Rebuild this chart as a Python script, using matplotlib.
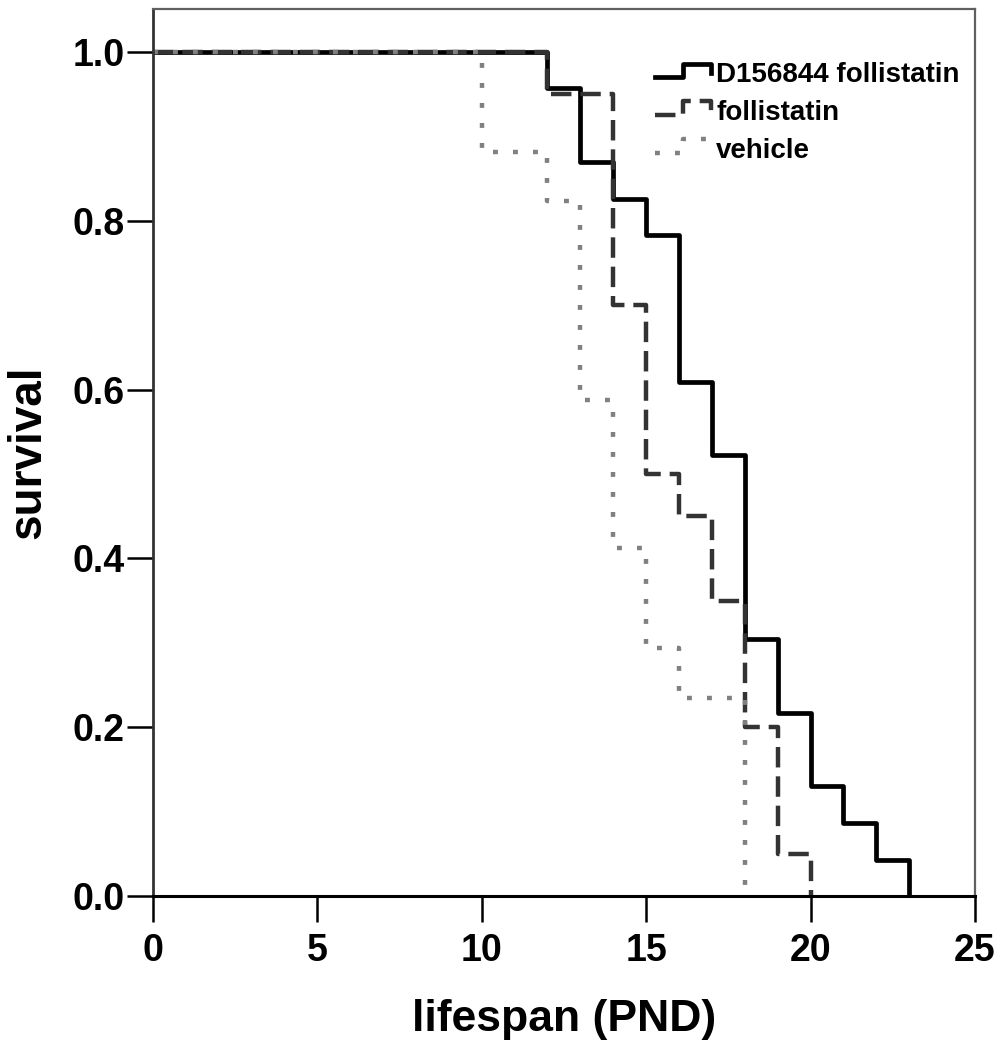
"""
Kaplan-Meier style survival curves (lifespan in postnatal days)
"""

import matplotlib
matplotlib.use("Agg")
import matplotlib.pyplot as plt
from matplotlib.legend_handler import HandlerLine2D
from matplotlib.lines import Line2D

# day of each step and survival fraction after that day
d156844_days = [0, 12, 13, 14, 15, 16, 17, 18, 19, 20, 21, 22, 23]
d156844_surv = [1.0, 0.957, 0.870, 0.826, 0.783, 0.609, 0.522, 0.304, 0.217, 0.130, 0.087, 0.043, 0.0]

follistatin_days = [0, 12, 14, 15, 16, 17, 18, 19, 20]
follistatin_surv = [1.0, 0.95, 0.70, 0.50, 0.45, 0.35, 0.20, 0.05, 0.0]

vehicle_days = [0, 10, 12, 13, 14, 15, 16, 18]
vehicle_surv = [1.0, 0.882, 0.824, 0.588, 0.412, 0.294, 0.235, 0.0]

x_ticks = [0, 5, 10, 15, 20, 25]
y_ticks = [0.0, 0.2, 0.4, 0.6, 0.8, 1.0]


class StepHandler(HandlerLine2D):
    """Legend key drawn as a little step, like SPSS survival plots."""

    def create_artists(self, legend, orig_handle, xdescent, ydescent,
                       width, height, fontsize, trans):
        x0, x1 = -xdescent, -xdescent + width
        xm = x0 + 0.5 * width
        lo = -ydescent + 0.25 * height
        hi = -ydescent + 0.95 * height
        mid = -ydescent + 0.45 * height
        line = Line2D([x0, xm, xm, x1, x1], [lo, lo, hi, hi, mid])
        self.update_prop(line, orig_handle, legend)
        line.set_transform(trans)
        return [line]


plt.rcParams['font.family'] = ['Liberation Sans', 'DejaVu Sans']
plt.rcParams['font.weight'] = 'bold'

fig = plt.figure(figsize=(10.03, 10.5), dpi=100)
ax = fig.add_axes([0.1525, 0.1467, 0.8195, 0.8447])

ax.step(d156844_days, d156844_surv, where='post', color='black', lw=3.4,
        label='D156844 follistatin')
ax.step(follistatin_days, follistatin_surv, where='post', color='#333333', lw=3.2,
        dashes=(4.6, 2.0), label='follistatin')
ax.step(vehicle_days, vehicle_surv, where='post', color='#808080', lw=3.2,
        dashes=(1.1, 3.4), label='vehicle')

ax.set_xlim(0, 25)
ax.set_ylim(0, 1.051)
ax.set_xticks(x_ticks)
ax.set_yticks(y_ticks)
ax.set_yticklabels([f"{v:.1f}" for v in y_ticks])
ax.tick_params(direction='out', length=19, width=1.8, labelsize=27)
ax.tick_params(axis='y', pad=1.5)
ax.tick_params(axis='x', pad=8)

ax.spines['left'].set_linewidth(2.0)
ax.spines['left'].set_color('#333333')
ax.spines['bottom'].set_linewidth(2.2)
for side in ['top', 'right']:
    ax.spines[side].set_linewidth(1.6)
    ax.spines[side].set_color('#606060')

ax.set_xlabel("lifespan (PND)", fontsize=32, fontweight='bold', labelpad=21)
ax.set_ylabel("survival", fontsize=33, fontweight='bold', labelpad=16)

leg = ax.legend(loc='upper left', bbox_to_anchor=(0.611, 0.940), frameon=False,
                fontsize=20, handlelength=2.0, handletextpad=0.2,
                labelspacing=0.42, borderaxespad=0, borderpad=0,
                handler_map={Line2D: StepHandler()})
for t in leg.get_texts():
    t.set_fontweight('bold')

fig.savefig("out.png", dpi=100)
